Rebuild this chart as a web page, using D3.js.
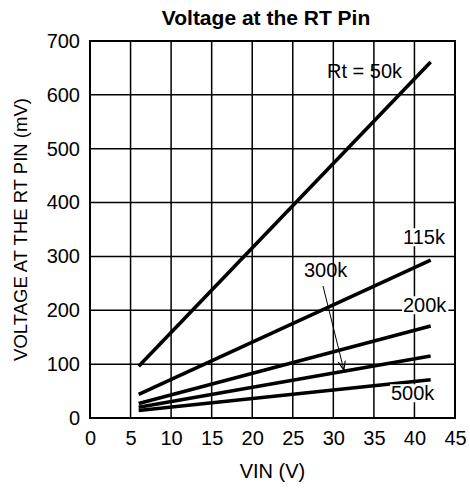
<!DOCTYPE html>
<html>
<head>
<meta charset="utf-8">
<script src="https://cdn.jsdelivr.net/npm/d3@7"></script>
<style>
  body { margin: 0; background: #fff; }
  text { font-family: "Liberation Sans", Arial, sans-serif; fill: #000; }
</style>
</head>
<body>
<svg id="chart" width="470" height="489"></svg>
<script>
// Data
const vin = [6, 42];
const rt50k = [96, 661];
const rt115k = [44, 293];
const rt200k = [27, 171];
const rt300k = [20, 115];
const rt500k = [14, 71];
const xTicks = [0, 5, 10, 15, 20, 25, 30, 35, 40, 45];
const yTicks = [0, 100, 200, 300, 400, 500, 600, 700];

const series = [
  { name: 'Rt = 50k', values: rt50k },
  { name: '115k', values: rt115k },
  { name: '200k', values: rt200k },
  { name: '300k', values: rt300k },
  { name: '500k', values: rt500k }
];

const margin = { left: 90, right: 15, top: 41, bottom: 71 };
const width = 470 - margin.left - margin.right;
const height = 489 - margin.top - margin.bottom;
const fs = 20;

const svg = d3.select('#chart');
const g = svg.append('g')
  .attr('transform', `translate(${margin.left},${margin.top})`);

const x = d3.scaleLinear().domain([0, 45]).range([0, width]);
const y = d3.scaleLinear().domain([0, 700]).range([height, 0]);

// grid
g.append('g')
  .selectAll('line')
  .data(xTicks.slice(1, -1))
  .join('line')
  .attr('x1', d => x(d)).attr('x2', d => x(d))
  .attr('y1', 0).attr('y2', height)
  .attr('stroke', '#000').attr('stroke-width', 1.5);

g.append('g')
  .selectAll('line')
  .data(yTicks.slice(1, -1))
  .join('line')
  .attr('x1', 0).attr('x2', width)
  .attr('y1', d => y(d)).attr('y2', d => y(d))
  .attr('stroke', '#000').attr('stroke-width', 1.5);

// axes (labels only)
const xAxis = g.append('g')
  .attr('transform', `translate(0,${height})`)
  .call(d3.axisBottom(x).tickValues(xTicks).tickSize(0).tickPadding(13));
xAxis.select('.domain').remove();
xAxis.selectAll('text').attr('font-size', fs).style('font-family', '"Liberation Sans", Arial, sans-serif');

const yAxis = g.append('g')
  .call(d3.axisLeft(y).tickValues(yTicks).tickSize(0).tickPadding(10));
yAxis.select('.domain').remove();
yAxis.selectAll('text').attr('font-size', fs).style('font-family', '"Liberation Sans", Arial, sans-serif');

// frame
g.append('rect')
  .attr('width', width).attr('height', height)
  .attr('fill', 'none').attr('stroke', '#000').attr('stroke-width', 2);

// lines
const line = d3.line()
  .x((d, i) => x(vin[i]))
  .y(d => y(d));

g.selectAll('.series')
  .data(series)
  .join('path')
  .attr('class', 'series')
  .attr('d', d => line(d.values))
  .attr('fill', 'none')
  .attr('stroke', '#000')
  .attr('stroke-width', 3.6);

// labels with white backing
function label(txt, px, py, bg) {
  const t = g.append('text')
    .attr('x', px).attr('y', py)
    .attr('font-size', fs)
    .attr('dominant-baseline', 'middle')
    .text(txt);
  if (bg) {
    const b = t.node().getBBox();
    g.insert('rect', () => t.node())
      .attr('x', b.x - 1).attr('y', b.y + 2)
      .attr('width', b.width + 2).attr('height', b.height - 4)
      .attr('fill', '#fff');
  }
}
label('Rt = 50k', 237, 32, false);
label('115k', 313, 198, true);
label('200k', 313, 266, true);
label('500k', 301, 354, true);
label('300k', 214, 231, false);

// arrow for 300k
svg.append('defs').append('marker')
  .attr('id', 'arr')
  .attr('viewBox', '0 0 10 10')
  .attr('refX', 10).attr('refY', 5)
  .attr('markerWidth', 9).attr('markerHeight', 9)
  .attr('orient', 'auto')
  .append('path')
  .attr('d', 'M0,1 L10,5 L0,9')
  .attr('fill', 'none').attr('stroke', '#000').attr('stroke-width', 1.3);

g.append('line')
  .attr('x1', 233).attr('y1', 245)
  .attr('x2', x(31.3)).attr('y2', y(89))
  .attr('stroke', '#000').attr('stroke-width', 1)
  .attr('marker-end', 'url(#arr)');

// titles
svg.append('text')
  .attr('x', 266).attr('y', 19)
  .attr('text-anchor', 'middle').attr('dominant-baseline', 'middle')
  .attr('font-size', 21).attr('font-weight', 'bold')
  .text('Voltage at the RT Pin');

svg.append('text')
  .attr('x', margin.left + width / 2).attr('y', 473)
  .attr('text-anchor', 'middle').attr('dominant-baseline', 'middle')
  .attr('font-size', fs)
  .text('VIN (V)');

svg.append('text')
  .attr('transform', `translate(22,${margin.top + height / 2}) rotate(-90)`)
  .attr('text-anchor', 'middle').attr('dominant-baseline', 'middle')
  .attr('font-size', 18.5)
  .text('VOLTAGE AT THE RT PIN (mV)');
</script>
</body>
</html>
